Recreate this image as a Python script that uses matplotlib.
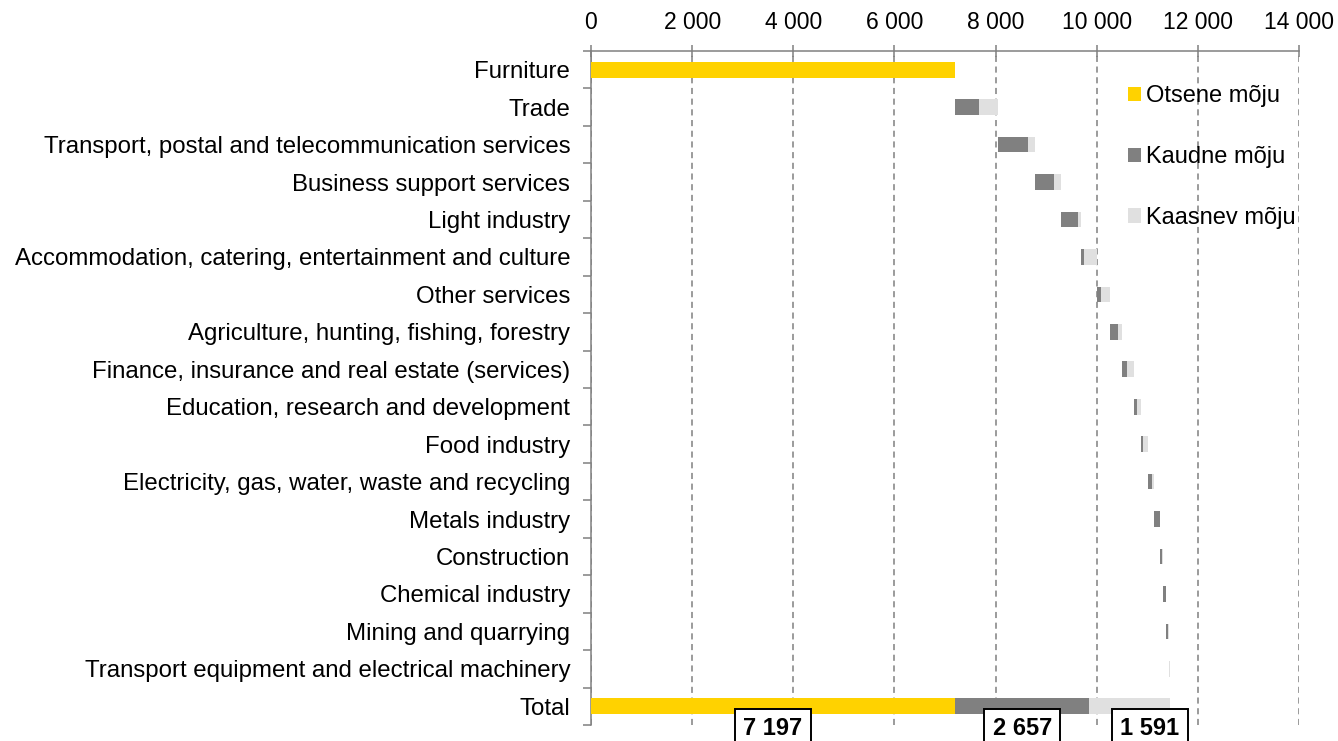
import matplotlib
matplotlib.use("Agg")
import numpy as np
import matplotlib.pyplot as plt
from matplotlib.patches import Patch
from matplotlib.ticker import FixedLocator, FuncFormatter

plt.rcParams['font.family'] = ['Liberation Sans', 'DejaVu Sans']

sectors = [
    'Furniture',
    'Trade',
    'Transport, postal and telecommunication services',
    'Business support services',
    'Light industry',
    'Accommodation, catering, entertainment and culture',
    'Other services',
    'Agriculture, hunting, fishing, forestry',
    'Finance, insurance and real estate (services)',
    'Education, research and development',
    'Food industry',
    'Electricity, gas, water, waste and recycling',
    'Metals industry',
    'Construction',
    'Chemical industry',
    'Mining and quarrying',
    'Transport equipment and electrical machinery',
]
direct = [7197, 0, 0, 0, 0, 0, 0, 0, 0, 0, 0, 0, 0, 0, 0, 0, 0]
indirect = [0, 481, 590, 382, 348, 55, 85, 158, 107, 73, 46, 79, 113, 40, 51, 40, 9]
induced = [0, 374, 135, 125, 65, 245, 180, 78, 122, 78, 85, 45, 5, 25, 8, 6, 15]

labels = sectors + ['Total']
legend_names = ['Otsene mõju', 'Kaudne mõju', 'Kaasnev mõju']
colors = ['#FFD200', '#808080', '#E0E0E0']

# waterfall: each sector starts where the previous ended
step = np.array(direct) + np.array(indirect) + np.array(induced)
start = np.concatenate([[0], np.cumsum(step)[:-1]])

tot_d, tot_i, tot_k = sum(direct), sum(indirect), sum(induced)

fig = plt.figure(figsize=(13.38, 7.41), dpi=100)
ax = fig.add_axes([0.4417, 0.0216, 0.5292, 0.9096])

y = np.arange(len(sectors))
h = 0.42
ax.barh(y, direct, left=start, height=h, color=colors[0], zorder=3)
ax.barh(y, indirect, left=start + np.array(direct), height=h, color=colors[1], zorder=3)
ax.barh(y, induced, left=start + np.array(direct) + np.array(indirect), height=h,
        color=colors[2], zorder=3)

yt = len(sectors)
ax.barh(yt, tot_d, left=0, height=h, color=colors[0], zorder=3)
ax.barh(yt, tot_i, left=tot_d, height=h, color=colors[1], zorder=3)
ax.barh(yt, tot_k, left=tot_d + tot_i, height=h, color=colors[2], zorder=3)

fmt = lambda v: f'{v:,.0f}'.replace(',', ' ')
box = dict(boxstyle='square,pad=0.35', facecolor='white', edgecolor='black', linewidth=1.4)
# the third label sits a bit right of its segment, as in the original
for xc, v in [(tot_d / 2, tot_d), (tot_d + tot_i / 2, tot_i), (tot_d + tot_i + tot_k / 2 + 400, tot_k)]:
    ax.text(xc, yt + 0.6, fmt(v), ha='center', va='center', fontsize=17,
            fontweight='bold', bbox=box, zorder=5, clip_on=False)

ax.set_xlim(0, 14000)
ax.set_ylim(len(labels) - 0.5, -0.5)
ax.xaxis.tick_top()
ax.set_xticks(np.arange(0, 14001, 2000))
ax.xaxis.set_major_formatter(FuncFormatter(lambda v, p: fmt(v)))
ax.tick_params(axis='x', direction='inout', length=9, width=1.1, color='#808080',
               pad=7.5, labelsize=16.5, labelcolor='black')
ax.grid(axis='x', color='#808080', linestyle=(0, (4, 3)), linewidth=1.1, zorder=1)

ax.set_yticks(y.tolist() + [yt])
ax.set_yticklabels(labels)
ax.yaxis.set_minor_locator(FixedLocator(np.arange(-0.5, len(labels), 1.0)))
ax.tick_params(axis='y', which='major', length=0, pad=15, labelsize=17.3)
ax.tick_params(axis='y', which='minor', length=5.5, color='#808080', width=1.1)

for s in ['right', 'bottom']:
    ax.spines[s].set_visible(False)
for s in ['left', 'top']:
    ax.spines[s].set_color('#808080')
    ax.spines[s].set_linewidth(1.1)

handles = [Patch(facecolor=c, edgecolor='none') for c in colors]
fig.legend(handles, legend_names, loc='upper left', bbox_to_anchor=(0.8363, 0.898),
           frameon=False, fontsize=17, handlelength=0.55, handleheight=0.55,
           handletextpad=0.2, labelspacing=1.65, borderaxespad=0)

fig.savefig('out.png', dpi=100)
